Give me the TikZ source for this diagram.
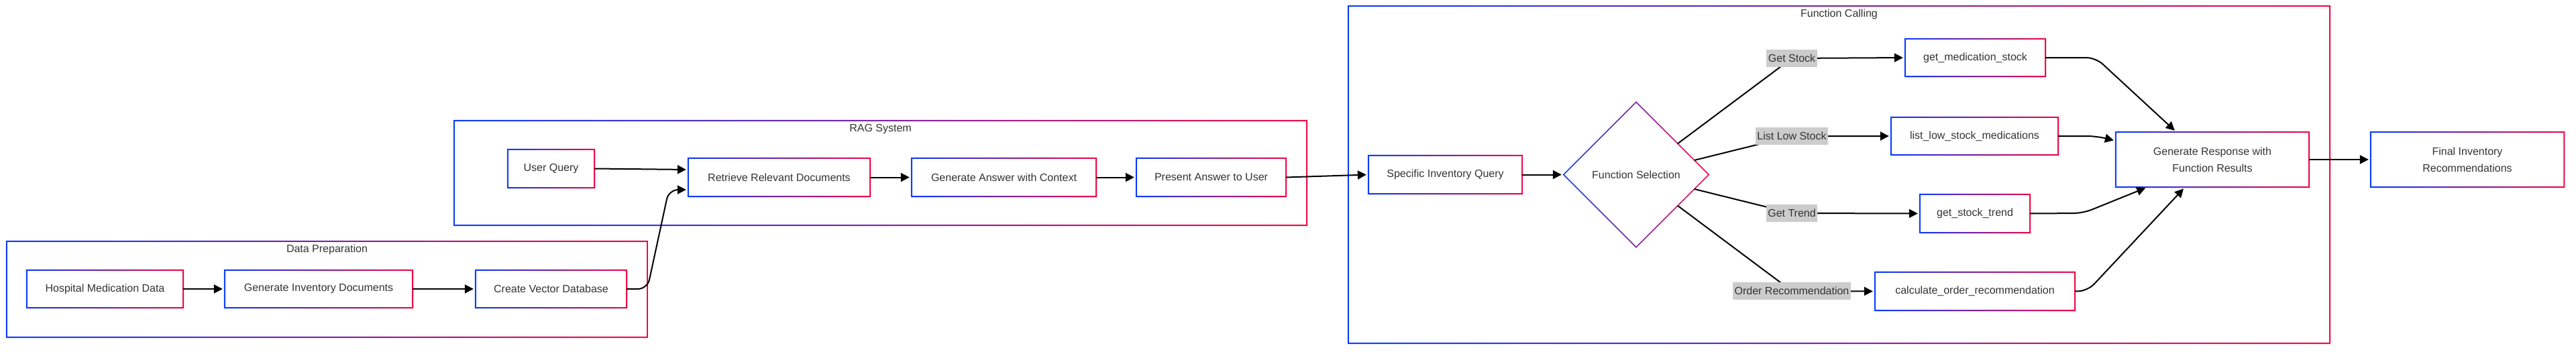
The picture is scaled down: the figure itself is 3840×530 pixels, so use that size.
\documentclass[tikz,border=0pt]{standalone}
\usepackage{fontspec}
\setmainfont{Liberation Sans}
\usetikzlibrary{arrows.meta,shapes.geometric,shadows}
\definecolor{gblue}{RGB}{10,60,255}
\definecolor{gred}{RGB}{240,10,70}
\definecolor{txt}{RGB}{51,51,51}
\definecolor{lblgray}{RGB}{204,204,204}
\newcommand\gframe[1]{%
  \shade[left color=gblue,right color=gred,even odd rule]
    ([shift={(-1,1)}]#1.south west) rectangle ([shift={(1,-1)}]#1.north east)
    ([shift={(1,-1)}]#1.south west) rectangle ([shift={(-1,1)}]#1.north east);}
\tikzset{
  fnt/.style={font=\fontsize{16}{25}\selectfont},
  nbox/.style={rectangle, fill=white, inner sep=0pt, text=txt, fnt, align=center,
    drop shadow={opacity=0.10, shadow xshift=1.5pt, shadow yshift=-2pt}},
  clus/.style={rectangle, inner sep=0pt},
  ctitle/.style={text=txt, fnt, inner sep=0pt},
  elbl/.style={fill=lblgray, text=txt, fnt, inner xsep=2.5pt, inner ysep=0pt, minimum height=26pt},
  conn/.style={line width=2pt, -{Triangle[length=13pt,width=13pt]}, shorten >=3pt, rounded corners=14pt},
}
\begin{document}
\begin{tikzpicture}[x=1pt,y=-1pt]
\fill[white] (0,0) rectangle (3840,530);
\useasboundingbox (0,0) rectangle (3840,530);

% clusters
\node[clus, minimum width=955pt, minimum height=143pt] (dp) at (487.5,431.5) {};
\node[clus, minimum width=1271pt, minimum height=156pt] (rag) at (1312.5,258) {};
\node[clus, minimum width=1463pt, minimum height=503pt] (fc) at (2741.5,260.5) {};
\gframe{dp}\gframe{rag}\gframe{fc}
\node[ctitle] (dpt) at ([yshift=-13pt]dp.north) {Data Preparation};
\node[ctitle] (ragt) at ([yshift=-13pt]rag.north) {RAG System};
\node[ctitle] (fct) at ([yshift=-13pt]fc.north) {Function Calling};

% data preparation
\node[nbox, minimum width=233pt, minimum height=56pt] (hmd) at (156.5,431) {Hospital Medication Data};
\node[nbox, minimum width=280pt, minimum height=56pt] (gid) at (475,431) {Generate Inventory Documents};
\node[nbox, minimum width=225pt, minimum height=56pt] (cvd) at (821.5,431) {Create Vector Database};

% RAG
\node[nbox, minimum width=129pt, minimum height=57pt] (uq) at (821.5,251.5) {User Query};
\node[nbox, minimum width=271pt, minimum height=57pt] (rrd) at (1161.5,264.5) {Retrieve Relevant Documents};
\node[nbox, minimum width=275pt, minimum height=57pt] (gac) at (1496.5,264.5) {Generate Answer with Context};
\node[nbox, minimum width=223pt, minimum height=57pt] (pau) at (1805.5,264.5) {Present Answer to User};

% function calling
\node[nbox, minimum width=229pt, minimum height=57pt] (siq) at (2154.5,260.5) {Specific Inventory Query};
\node[diamond, aspect=1, minimum width=216pt, minimum height=216pt, inner sep=0pt, fill=white, text=txt, fnt] (fs) at (2439,260.5) {Function Selection};
\node[nbox, minimum width=209pt, minimum height=56pt] (gms) at (2944.5,86) {get\_medication\_stock};
\node[nbox, minimum width=249pt, minimum height=56pt] (llsm) at (2943.5,203) {list\_low\_stock\_medications};
\node[nbox, minimum width=164pt, minimum height=57pt] (gst) at (2944,318.5) {get\_stock\_trend};
\node[nbox, minimum width=298pt, minimum height=57pt] (cor) at (2944,434.5) {calculate\_order\_recommendation};
\node[nbox, minimum width=288pt, minimum height=82pt] (grf) at (3298,238) {Generate Response with\\Function Results};
\node[nbox, minimum width=288pt, minimum height=82pt] (fir) at (3678,238) {Final Inventory\\Recommendations};

\foreach \n in {hmd,gid,cvd,uq,rrd,gac,pau,siq,gms,llsm,gst,cor,grf,fir} {\gframe{\n}}
\shade[left color=gblue,right color=gred,even odd rule]
  ([xshift=-1.1pt]fs.west) -- ([yshift=1.1pt]fs.north) -- ([xshift=1.1pt]fs.east) -- ([yshift=-1.1pt]fs.south) -- cycle
  ([xshift=1.1pt]fs.west) -- ([yshift=-1.1pt]fs.north) -- ([xshift=-1.1pt]fs.east) -- ([yshift=1.1pt]fs.south) -- cycle;

% edges
\draw[conn] (hmd.east) -- (gid.west);
\draw[conn] (gid.east) -- (cvd.west);
\draw[conn] (cvd.east) -- (965,431) -- (997,283) -- ([yshift=-18.5pt]rrd.west);
\draw[conn] (uq.east) -- ([yshift=11.5pt]rrd.west);
\draw[conn] (rrd.east) -- (gac.west);
\draw[conn] (gac.east) -- (pau.west);
\draw[conn] (pau.east) -- (siq.west);
\draw[conn] (siq.east) -- (fs.west);

\coordinate (c1) at (2671,87);
\coordinate (c2) at (2671,203);
\coordinate (c3) at (2671,318);
\coordinate (c4) at (2671,434);
\draw[conn, rounded corners=0pt] (fs) -- (c1) -- (gms.west);
\draw[conn, rounded corners=0pt] (fs) -- (c2) -- (llsm.west);
\draw[conn, rounded corners=0pt] (fs) -- (c3) -- (gst.west);
\draw[conn, rounded corners=0pt] (fs) -- (c4) -- (cor.west);
\node[elbl] (l1) at (c1) {Get Stock};
\node[elbl] (l2) at (c2) {List Low Stock};
\node[elbl] (l3) at (c3) {Get Trend};
\node[elbl] (l4) at (c4) {Order Recommendation};

\draw[conn] (gms.east) -- (3124,86) -- ([xshift=-54pt]grf.north);
\draw[conn] (llsm.east) -- (3125,203) -- ([yshift=28pt]grf.west);
\draw[conn] (gst.east) -- (3105,318) -- ([xshift=-97pt]grf.south);
\draw[conn] (cor.east) -- (3112,434) -- ([xshift=-41pt]grf.south);
\draw[conn] (grf.east) -- (fir.west);
\end{tikzpicture}
\end{document}
